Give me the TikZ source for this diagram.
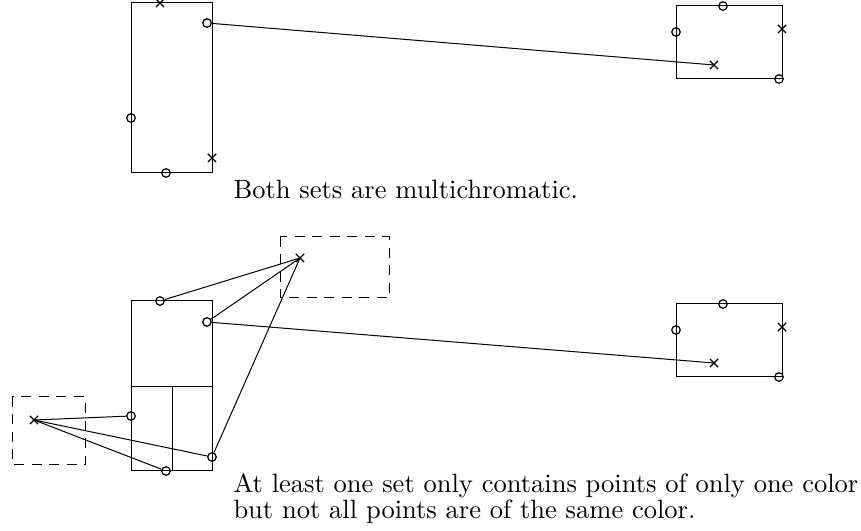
\documentclass[tikz,border=0pt]{standalone}
\usetikzlibrary{shapes.misc}
\begin{document}
\begin{tikzpicture}[x=0.4pt,y=-0.4pt,
  box/.style={draw,line width=0.4pt},
  dbox/.style={draw,dashed,dash pattern=on 4pt off 3pt,line width=0.4pt},
  opt/.style={circle,draw,inner sep=0pt,minimum size=3.4pt,line width=0.5pt},
  xpt/.style={cross out,draw,inner sep=0pt,minimum size=2.8pt,line width=0.5pt},
  conn/.style={line width=0.4pt},
  lbl/.style={font=\fontsize{10.6}{10.4}\selectfont,inner sep=0pt,anchor=base west}]
\useasboundingbox (0,0) rectangle (861,531);
% ---------- top ----------
\draw[box] (131,3) rectangle (212,173);
\draw[box] (676,6) rectangle (782,79);
\node[xpt] (a1) at (160,3) {};
\node[opt] (a2) at (207,23) {};
\node[opt] (a3) at (131,118) {};
\node[xpt] (a4) at (212,158) {};
\node[opt] (a5) at (166,173) {};
\node[opt] (b1) at (723,6) {};
\node[opt] (b2) at (676,32) {};
\node[xpt] (b3) at (782,29) {};
\node[xpt] (b4) at (714,65) {};
\node[opt] (b5) at (779,79) {};
\draw[conn] (a2) -- (b4.center);
\node[lbl] (t1) at (233,199) {Both sets are multichromatic.};
% ---------- bottom ----------
\draw[box] (131,301) rectangle (212,471);
\draw[box] (131,387) -- (212,387);
\draw[box] (172,387) -- (172,471);
\draw[box] (676,304) rectangle (782,377);
\draw[dbox] (280,237) rectangle (389,298);
\draw[dbox] (12,397) rectangle (85,465);
\node[opt] (c1) at (160,301) {};
\node[opt] (c2) at (207,322) {};
\node[opt] (c3) at (131,416) {};
\node[opt] (c4) at (212,457) {};
\node[opt] (c5) at (166,471) {};
\node[xpt] (u1) at (300,258) {};
\node[xpt] (u2) at (34,420) {};
\node[opt] (d1) at (723,304) {};
\node[opt] (d2) at (676,330) {};
\node[xpt] (d3) at (782,327) {};
\node[xpt] (d4) at (714,363) {};
\node[opt] (d5) at (779,377) {};
\draw[conn] (c2) -- (d4.center);
\draw[conn] (u1.center) -- (c1);
\draw[conn] (u1.center) -- (c2);
\draw[conn] (u1.center) -- (c4);
\draw[conn] (u2.center) -- (c3);
\draw[conn] (u2.center) -- (c4);
\draw[conn] (u2.center) -- (c5);
\node[lbl] (t2) at (233,493) {At least one set only contains points of only one color};
\node[lbl] (t3) at (233,519) {but not all points are of the same color.};
\end{tikzpicture}
\end{document}
